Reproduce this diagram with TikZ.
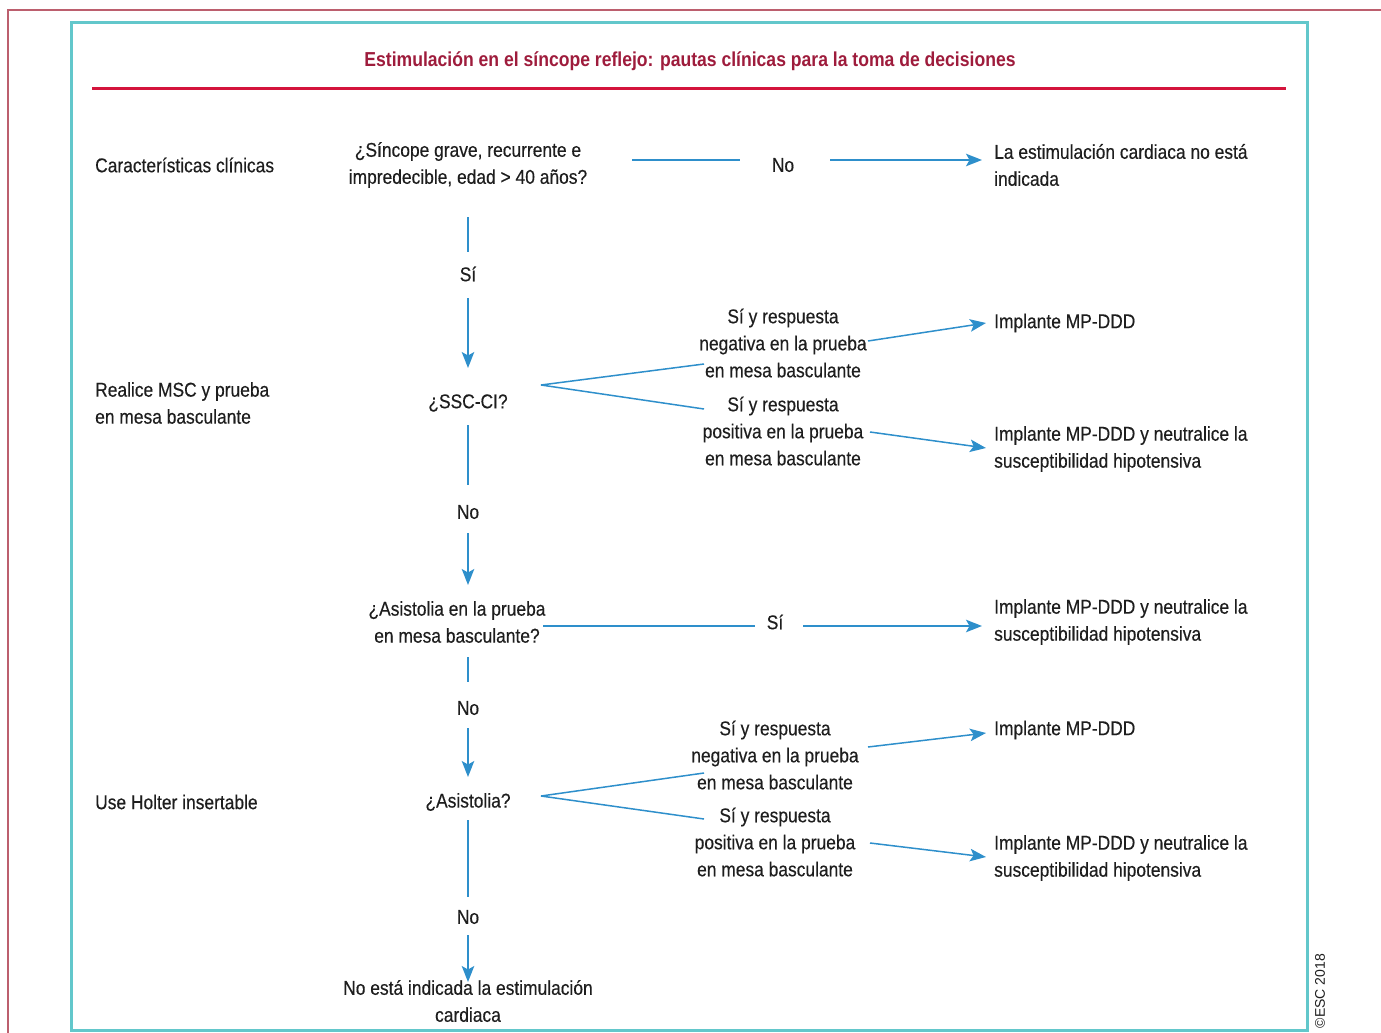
\documentclass[tikz,border=0pt]{standalone}
\usepackage{fontspec}
\setmainfont{Liberation Sans}[FakeStretch=0.87, FakeBold=0.35]
\newfontfamily\headfont{Liberation Sans}[FakeStretch=0.87]
\newfontfamily\plainsans{Liberation Sans}
\usetikzlibrary{arrows.meta}
\definecolor{framered}{HTML}{BC5F6E}
\definecolor{frameteal}{HTML}{62C7CB}
\definecolor{rulered}{HTML}{D4143C}
\definecolor{titlered}{HTML}{9E1C3C}
\definecolor{linkblue}{HTML}{2E8FCB}
\definecolor{ink}{HTML}{1E1E1E}
\tikzset{
  txt/.style={inner sep=0pt, align=center, text=ink, font=\fontsize{20}{27}\selectfont},
  side/.style={txt, anchor=west, align=left},
  link/.style={draw=linkblue, line width=1.5pt},
  arrowlink/.style={link, -{Stealth[length=16pt, width=12.5pt, inset=3.5pt]}},
}
\begin{document}
\begin{tikzpicture}[x=1pt, y=-1pt]
\useasboundingbox (0,0) rectangle (1381,1033);

% frames and heading
\draw[framered, line width=2pt] (8,1040) -- (8,10) -- (1390,10);
\draw[frameteal, line width=3pt] (71,23) rectangle (1307,1030);
\node[inner sep=0pt, text=titlered, font=\headfont\fontsize{20.2}{24}\selectfont\bfseries] (title) at (690,61)
  {Estimulación en el síncope reflejo: pautas clínicas para la toma de decisiones};
\draw[rulered, line width=3pt] (92,88) -- (1286,88);

% row labels
\node[side] (c1) at (95,165) {Características clínicas};
\node[side] (c2) at (95,403) {Realice MSC y prueba\\en mesa basculante};
\node[side] (c3) at (95,802) {Use Holter insertable};

% decision column
\node[txt] (q1) at (468,165) {¿Síncope grave, recurrente e\\impredecible, edad > 40 años?};
\node[txt] (no1) at (783,165) {No};
\node[side] (r1) at (994,165) {La estimulación cardiaca no está\\indicada};
\node[txt] (si1) at (468,274) {Sí};
\node[txt] (q2) at (468,403) {¿SSC-CI?};
\node[txt] (b1) at (783,343) {Sí y respuesta\\negativa en la prueba\\en mesa basculante};
\node[txt] (b2) at (783,431) {Sí y respuesta\\positiva en la prueba\\en mesa basculante};
\node[side] (r2) at (994,323) {Implante MP-DDD};
\node[side] (r3) at (994,449) {Implante MP-DDD y neutralice la\\susceptibilidad hipotensiva};
\node[txt] (no2) at (468,512) {No};
\node[txt] (q3) at (457,622) {¿Asistolia en la prueba\\en mesa basculante?};
\node[txt] (si2) at (775,622) {Sí};
\node[side] (r4) at (994,622) {Implante MP-DDD y neutralice la\\susceptibilidad hipotensiva};
\node[txt] (no3) at (468,708) {No};
\node[txt] (q4) at (468,802) {¿Asistolia?};
\node[txt] (b3) at (775,755) {Sí y respuesta\\negativa en la prueba\\en mesa basculante};
\node[txt] (b4) at (775,842) {Sí y respuesta\\positiva en la prueba\\en mesa basculante};
\node[side] (r5) at (994,730) {Implante MP-DDD};
\node[side] (r6) at (994,858) {Implante MP-DDD y neutralice la\\susceptibilidad hipotensiva};
\node[txt] (no4) at (468,917) {No};
\node[txt] (stop) at (468,1001) {No está indicada la estimulación\\cardiaca};

\node[rotate=90, inner sep=0pt, text=ink, font=\plainsans\fontsize{14}{16}\selectfont] (copy) at (1320,991) {©ESC 2018};

% connectors
\draw[link] ([shift={(164,-5)}]q1.center) -- ([shift={(-43,-5)}]no1.center);
\draw[arrowlink] ([shift={(47,-5)}]no1.center) -- ([shift={(-12,-5)}]r1.west);
\draw[link] ([shift={(0,52)}]q1.center) -- ([shift={(0,-22)}]si1.center);
\draw[arrowlink] ([shift={(0,24)}]si1.center) -- ([shift={(0,-35)}]q2.center);
\draw[link] ([shift={(73,-18)}]q2.center) -- ([shift={(-79,21)}]b1.center);
\draw[link] ([shift={(73,-18)}]q2.center) -- ([shift={(-79,-22)}]b2.center);
\draw[arrowlink] ([shift={(85,-2)}]b1.center) -- ([shift={(-8,0)}]r2.west);
\draw[arrowlink] ([shift={(87,1)}]b2.center) -- ([shift={(-8,-1)}]r3.west);
\draw[link] ([shift={(0,22)}]q2.center) -- ([shift={(0,-27)}]no2.center);
\draw[arrowlink] ([shift={(0,21)}]no2.center) -- ([shift={(11,-37)}]q3.center);
\draw[link] ([shift={(86,4)}]q3.center) -- ([shift={(-20,4)}]si2.center);
\draw[arrowlink] ([shift={(28,4)}]si2.center) -- ([shift={(-12,4)}]r4.west);
\draw[link] ([shift={(11,35)}]q3.center) -- ([shift={(0,-26)}]no3.center);
\draw[arrowlink] ([shift={(0,20)}]no3.center) -- ([shift={(0,-25)}]q4.center);
\draw[link] ([shift={(73,-6)}]q4.center) -- ([shift={(-71,18)}]b3.center);
\draw[link] ([shift={(73,-6)}]q4.center) -- ([shift={(-71,-23)}]b4.center);
\draw[arrowlink] ([shift={(93,-8)}]b3.center) -- ([shift={(-8,3)}]r5.west);
\draw[arrowlink] ([shift={(95,1)}]b4.center) -- ([shift={(-8,-1)}]r6.west);
\draw[link] ([shift={(0,18)}]q4.center) -- ([shift={(0,-20)}]no4.center);
\draw[arrowlink] ([shift={(0,18)}]no4.center) -- ([shift={(0,-19)}]stop.center);
\end{tikzpicture}
\end{document}
